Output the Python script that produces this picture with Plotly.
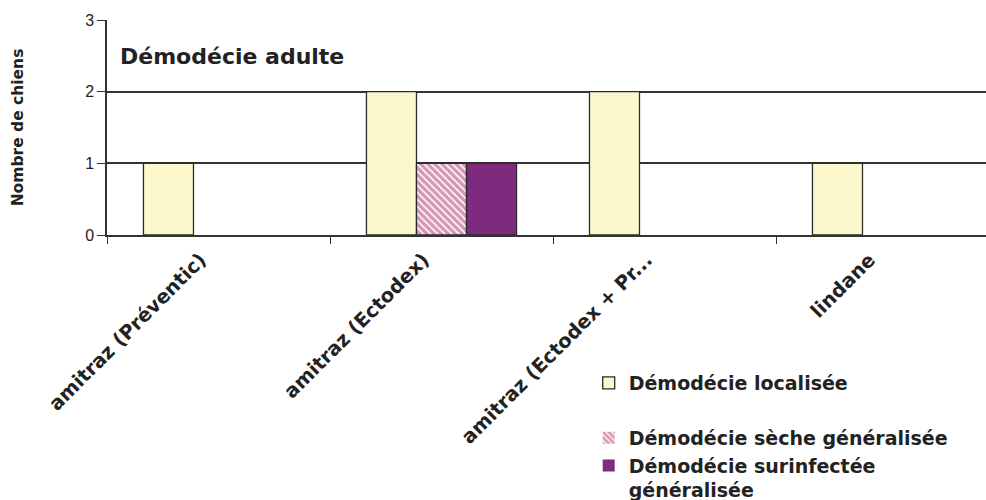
import plotly.graph_objects as go

categories = ["amitraz (Préventic)", "amitraz (Ectodex)", "amitraz (Ectodex + Pr...", "lindane"]
series_names = ["Démodécie localisée", "Démodécie sèche généralisée", "Démodécie surinfectée<br>généralisée"]
localisee = [1, 2, 2, 1]
seche = [0, 1, 0, 0]
surinfectee = [0, 1, 0, 0]
y_ticks = [0, 1, 2, 3]

FONT = "Liberation Sans, Arial, sans-serif"
WIDE = "DejaVu Sans, Liberation Sans, sans-serif"
OUT = "#2b2b2b"


def outline_widths(vals):
    return [1.3 if v else 0 for v in vals]


fig = go.Figure()
fig.add_trace(go.Bar(
    x=categories, y=localisee, name=series_names[0],
    marker=dict(color="#FBF8CD", line=dict(color=OUT, width=outline_widths(localisee))),
    legend="legend",
))
fig.add_trace(go.Bar(
    x=categories, y=seche, name=series_names[1],
    marker=dict(color="white", line=dict(color=OUT, width=outline_widths(seche)),
                pattern=dict(shape="\\", fgcolor="#B02E6A", bgcolor="white", size=5, solidity=0.7)),
    legend="legend2",
))
fig.add_trace(go.Bar(
    x=categories, y=surinfectee, name=series_names[2],
    marker=dict(color="#7E2A7E", line=dict(color=OUT, width=outline_widths(surinfectee))),
    legend="legend2",
))

LEG_FONT = dict(size=19, family=WIDE, color="#222", weight="bold")

fig.update_layout(
    width=986, height=500,
    margin=dict(l=107, r=0, t=20, b=265, autoexpand=False),
    paper_bgcolor="white", plot_bgcolor="white",
    barmode="group", bargap=0.327, bargroupgap=0,
    font=dict(family=FONT, color="#222"),
    showlegend=True,
    legend=dict(x=0.548, y=-0.6, xanchor="left", yanchor="top", itemwidth=30,
                font=LEG_FONT, bgcolor="rgba(255,255,255,1)", valign="top"),
    legend2=dict(x=0.548, y=-0.855, xanchor="left", yanchor="top", itemwidth=30,
                 font=LEG_FONT, bgcolor="rgba(255,255,255,1)", valign="top", tracegroupgap=0),
    xaxis=dict(
        range=[-0.5, 3.4417], tickangle=-45,
        tickfont=dict(size=19.5, family=WIDE, color="#222", weight="bold"),
        ticklabelshift=-18, ticklabelstandoff=4,
        ticks="outside", tickson="boundaries", ticklen=7, tickcolor="#333", tickwidth=1.2,
        showline=True, linecolor="#333", linewidth=1.5,
        showgrid=False, zeroline=False,
    ),
    yaxis=dict(
        range=[0, 3], tickvals=y_ticks,
        tickfont=dict(size=16, family=FONT, color="#222"),
        ticks="outside", ticklen=8, tickcolor="#333", tickwidth=1.2,
        showline=True, linecolor="#333", linewidth=1.5,
        showgrid=True, gridcolor="#333", gridwidth=1.5,
        zeroline=False,
        title=dict(text="Nombre de chiens", standoff=58,
                   font=dict(size=15.5, family=WIDE, color="#222", weight="bold")),
    ),
    annotations=[dict(
        text="Démodécie adulte", x=0.012, y=0.83, xref="paper", yref="paper",
        xanchor="left", yanchor="middle", showarrow=False,
        font=dict(size=22, family=WIDE, color="#222", weight="bold"),
    )],
)

fig.write_html("out.html")
